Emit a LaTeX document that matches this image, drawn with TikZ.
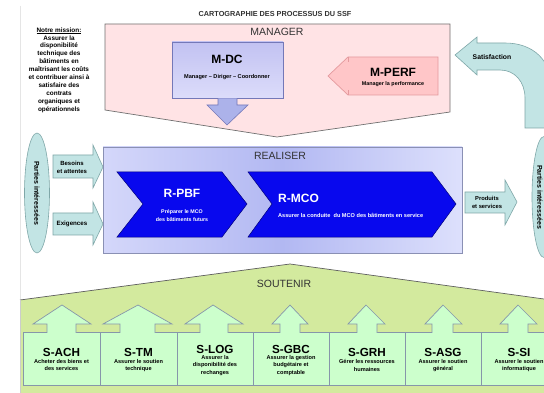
\documentclass[tikz,border=0pt]{standalone}
\usepackage{fontspec}
\setmainfont{Liberation Sans}
\usetikzlibrary{shapes.geometric}
\definecolor{pinkbg}{HTML}{FFE3E5}
\definecolor{pinkline}{HTML}{707070}
\definecolor{perffill}{HTML}{FFC6C8}
\definecolor{perfline}{HTML}{E49A9E}
\definecolor{mdctop}{HTML}{C2C2F2}
\definecolor{mdcbot}{HTML}{DCDCFA}
\definecolor{mdcline}{HTML}{7478B8}
\definecolor{mdcarrow}{HTML}{ACB2EA}
\definecolor{tealfill}{HTML}{C2E4E4}
\definecolor{tealline}{HTML}{7FA7A8}
\definecolor{realL}{HTML}{D4D7FA}
\definecolor{realM}{HTML}{B2B8F2}
\definecolor{realR}{HTML}{DDE0FC}
\definecolor{realline}{HTML}{8A90B4}
\definecolor{chevblue}{HTML}{0808EE}
\definecolor{chevline}{HTML}{00007A}
\definecolor{greenbg}{HTML}{D3EA9E}
\definecolor{greenline}{HTML}{606060}
\definecolor{sfill}{HTML}{CCFFCC}
\definecolor{sline}{HTML}{8696AA}
\definecolor{txtgray}{HTML}{333333}
\tikzset{
  lbl/.style={inner sep=0pt, align=center, text=black},
  tiny/.style={lbl, font=\fontsize{5.8}{7}\selectfont\bfseries},
  big/.style={lbl, font=\fontsize{12}{12}\selectfont\bfseries},
  sect/.style={lbl, text=txtgray, font=\fontsize{10.5}{10.5}\selectfont},
  boxtitle/.style={inner sep=0pt, anchor=base, font=\fontsize{11.7}{11.7}\selectfont\bfseries},
  boxsub/.style={inner sep=0pt, anchor=north, align=center, font=\fontsize{5.6}{7.2}\selectfont\bfseries},
  sarrow/.style={fill=sfill, draw=sline, line width=0.7pt, line join=miter},
  sbox/.style={fill=sfill, draw=sline, line width=0.7pt},
  tealshape/.style={fill=tealfill, draw=tealline, line width=0.6pt},
  chev/.style={fill=chevblue, draw=chevline, line width=0.5pt},
}
\begin{document}
\begin{tikzpicture}[x=1pt,y=-1pt]
\useasboundingbox (0,0) rectangle (544,393);
\clip (0,0) rectangle (544,393);
\fill[white] (0,0) rectangle (544,393);
\draw[gray!20, line width=0.8pt] (20,6) -- (20,300);

% ---------- MANAGER ----------
\draw[fill=pinkbg, draw=pinkline, line width=0.7pt] (105,24) -- (450,24) -- (450,112) -- (277,137) -- (105,110) -- cycle;
\node[lbl, font=\fontsize{7.3}{7.3}\selectfont\bfseries, text=txtgray] (title) at (275,14) {CARTOGRAPHIE DES PROCESSUS DU SSF};
\node[sect] (manager) at (277,32) {MANAGER};

% M-DC
\shade[top color=mdctop, bottom color=mdcbot] (172,42) rectangle (283,98);
\draw[mdcline, line width=0.7pt] (172,42) rectangle (283,98);
\draw[fill=mdcarrow, draw=mdcline, line width=0.6pt] (218,98.5) -- (218,105) -- (207,105) -- (227,125) -- (248,105) -- (237,105) -- (237,98.5);
\node[big] (mdc) at (227,59) {M-DC};
\node[tiny, font=\fontsize{5.6}{7}\selectfont\bfseries] (mdcsub) at (227,77) {Manager -- Diriger -- Coordonner};

% M-PERF
\draw[fill=perffill, draw=perfline, line width=0.7pt] (328,76) -- (348,57) -- (438,57) -- (438,95) -- (348,95) -- cycle;
\draw[perfline, line width=0.6pt] (348,57) -- (348,62) (348,90) -- (348,95);
\node[big] (mperf) at (393,72) {M-PERF};
\node[tiny, font=\fontsize{5.4}{7}\selectfont\bfseries] (mperfsub) at (393,84) {Manager la performance};

% Mission text
\node[lbl, font=\fontsize{6.4}{7.9}\selectfont\bfseries] (mission) at (59,70) {\underline{Notre mission:}\\Assurer la\\disponibilité\\technique des\\bâtiments en\\maîtrisant les coûts\\et contribuer ainsi à\\satisfaire des\\contrats\\organiques et\\opérationnels};

% Satisfaction arrow
\draw[tealshape] (455,55) -- (477,37) -- (477,43) -- (505,43) .. controls (533,43) and (552,60) .. (552,90) -- (552,128) -- (525,128) -- (525,98) .. controls (525,82) and (515,70) .. (500,70) -- (477,70) -- (477,75) -- cycle;
\node[tiny, font=\fontsize{6.8}{7}\selectfont\bfseries] (satis) at (492,57) {Satisfaction};

% ---------- Parties intéressées ----------
\node[ellipse, tealshape, minimum width=25pt, minimum height=120pt, inner sep=0pt] (pil) at (37,193) {};
\node[tiny, rotate=-90, font=\fontsize{7}{7}\selectfont\bfseries] (pilt) at (37,193) {Parties intéressées};
\node[ellipse, tealshape, minimum width=24pt, minimum height=121pt, inner sep=0pt] (pir) at (544,197) {};
\node[tiny, rotate=-90, font=\fontsize{7}{7}\selectfont\bfseries] (pirt) at (540,197) {Parties intéressées};

% left input arrows
\draw[tealshape] (53,155) -- (93,155) -- (93,145) -- (103,167) -- (93,188) -- (93,178) -- (53,178) -- cycle;
\node[tiny, font=\fontsize{6}{8}\selectfont\bfseries] (besoins) at (72,167.5) {Besoins\\et attentes};
\draw[tealshape] (53,213) -- (93,213) -- (93,202) -- (103,224) -- (93,245) -- (93,235) -- (53,235) -- cycle;
\node[tiny, font=\fontsize{6.2}{7}\selectfont\bfseries] (exig) at (72,224) {Exigences};

% ---------- REALISER ----------
\shade[left color=realL, right color=realR, middle color=realM] (103,147) rectangle (462,253);
\draw[realline, line width=0.7pt] (103,147) rectangle (462,253);
\node[sect] (realiser) at (280,156) {REALISER};
\draw[chev] (117,172) -- (222,172) -- (247,204) -- (222,237) -- (117,237) -- (143,204) -- cycle;
\draw[chev] (248,172) -- (432,172) -- (456,204) -- (432,237) -- (248,237) -- (272,204) -- cycle;
\node[big, text=white] (rpbf) at (182,193) {R-PBF};
\node[tiny, text=white, font=\fontsize{5.3}{8}\selectfont\bfseries] (rpbfsub) at (182,216) {Préparer le MCO\\des bâtiments futurs};
\node[big, text=white, anchor=west] (rmco) at (278,198) {R-MCO};
\node[tiny, text=white, anchor=west, font=\fontsize{5.6}{7}\selectfont\bfseries] (rmcosub) at (278,215) {Assurer la conduite~~du MCO des bâtiments en service};

% output arrow
\draw[tealshape] (465,192) -- (505,192) -- (505,180) -- (517,202) -- (505,225) -- (505,213) -- (465,213) -- cycle;
\node[tiny, font=\fontsize{5.8}{8}\selectfont\bfseries] (prod) at (487,202) {Produits\\et services};

% ---------- SOUTENIR ----------
\fill[greenbg] (20,300) -- (290,264) -- (544,299) -- (544,393) -- (20,393) -- cycle;
\draw[greenline, line width=0.7pt] (20,300) -- (290,264) -- (544,299);
\draw[gray!40, line width=0.6pt] (20,300) -- (20,393);
\node[sect] (soutenir) at (284,284) {SOUTENIR};

% boxes
\foreach \a/\b in {23/100,100/177,177/253,253/329,329/405,405/481,481/557}
  \draw[sbox] (\a,332) rectangle (\b,385);
% up arrows: tip, head left, head right, shaft left, shaft right
\foreach \t/\hl/\hr/\sl/\sr in {62/33/91/47/76, 138/103/172/120/155, 213/185/243/200/228, 290/272/308/280/300, 366/348/385/357/377, 443/425/462/432/453, 518/500/537/508/528}
  \filldraw[sarrow] (\sl,332.8) -- (\sl,324) -- (\hl,324) -- (\t,305) -- (\hr,324) -- (\sr,324) -- (\sr,332.8);

\node[boxtitle] (sach) at (61.5,356) {S-ACH};
\node[boxsub] (sachs) at (61.5,359.5) {Acheter des biens et\\des services};
\node[boxtitle] (stm) at (138.5,356) {S-TM};
\node[boxsub] (stms) at (138.5,359.5) {Assurer le soutien\\technique};
\node[boxtitle] (slog) at (215,353) {S-LOG};
\node[boxsub] (slogs) at (215,355.5) {Assurer la\\disponibilité des\\rechanges};
\node[boxtitle] (sgbc) at (291,353) {S-GBC};
\node[boxsub] (sgbcs) at (291,355.5) {Assurer la gestion\\budgétaire et\\comptable};
\node[boxtitle] (sgrh) at (367,356) {S-GRH};
\node[boxsub] (sgrhs) at (367,359.5) {Gérer les ressources\\humaines};
\node[boxtitle] (sasg) at (443,356) {S-ASG};
\node[boxsub] (sasgs) at (443,359.5) {Assurer le soutien\\général};
\node[boxtitle] (ssi) at (519,356) {S-SI};
\node[boxsub] (ssis) at (519,359.5) {Assurer le soutien\\informatique};
\end{tikzpicture}
\end{document}
